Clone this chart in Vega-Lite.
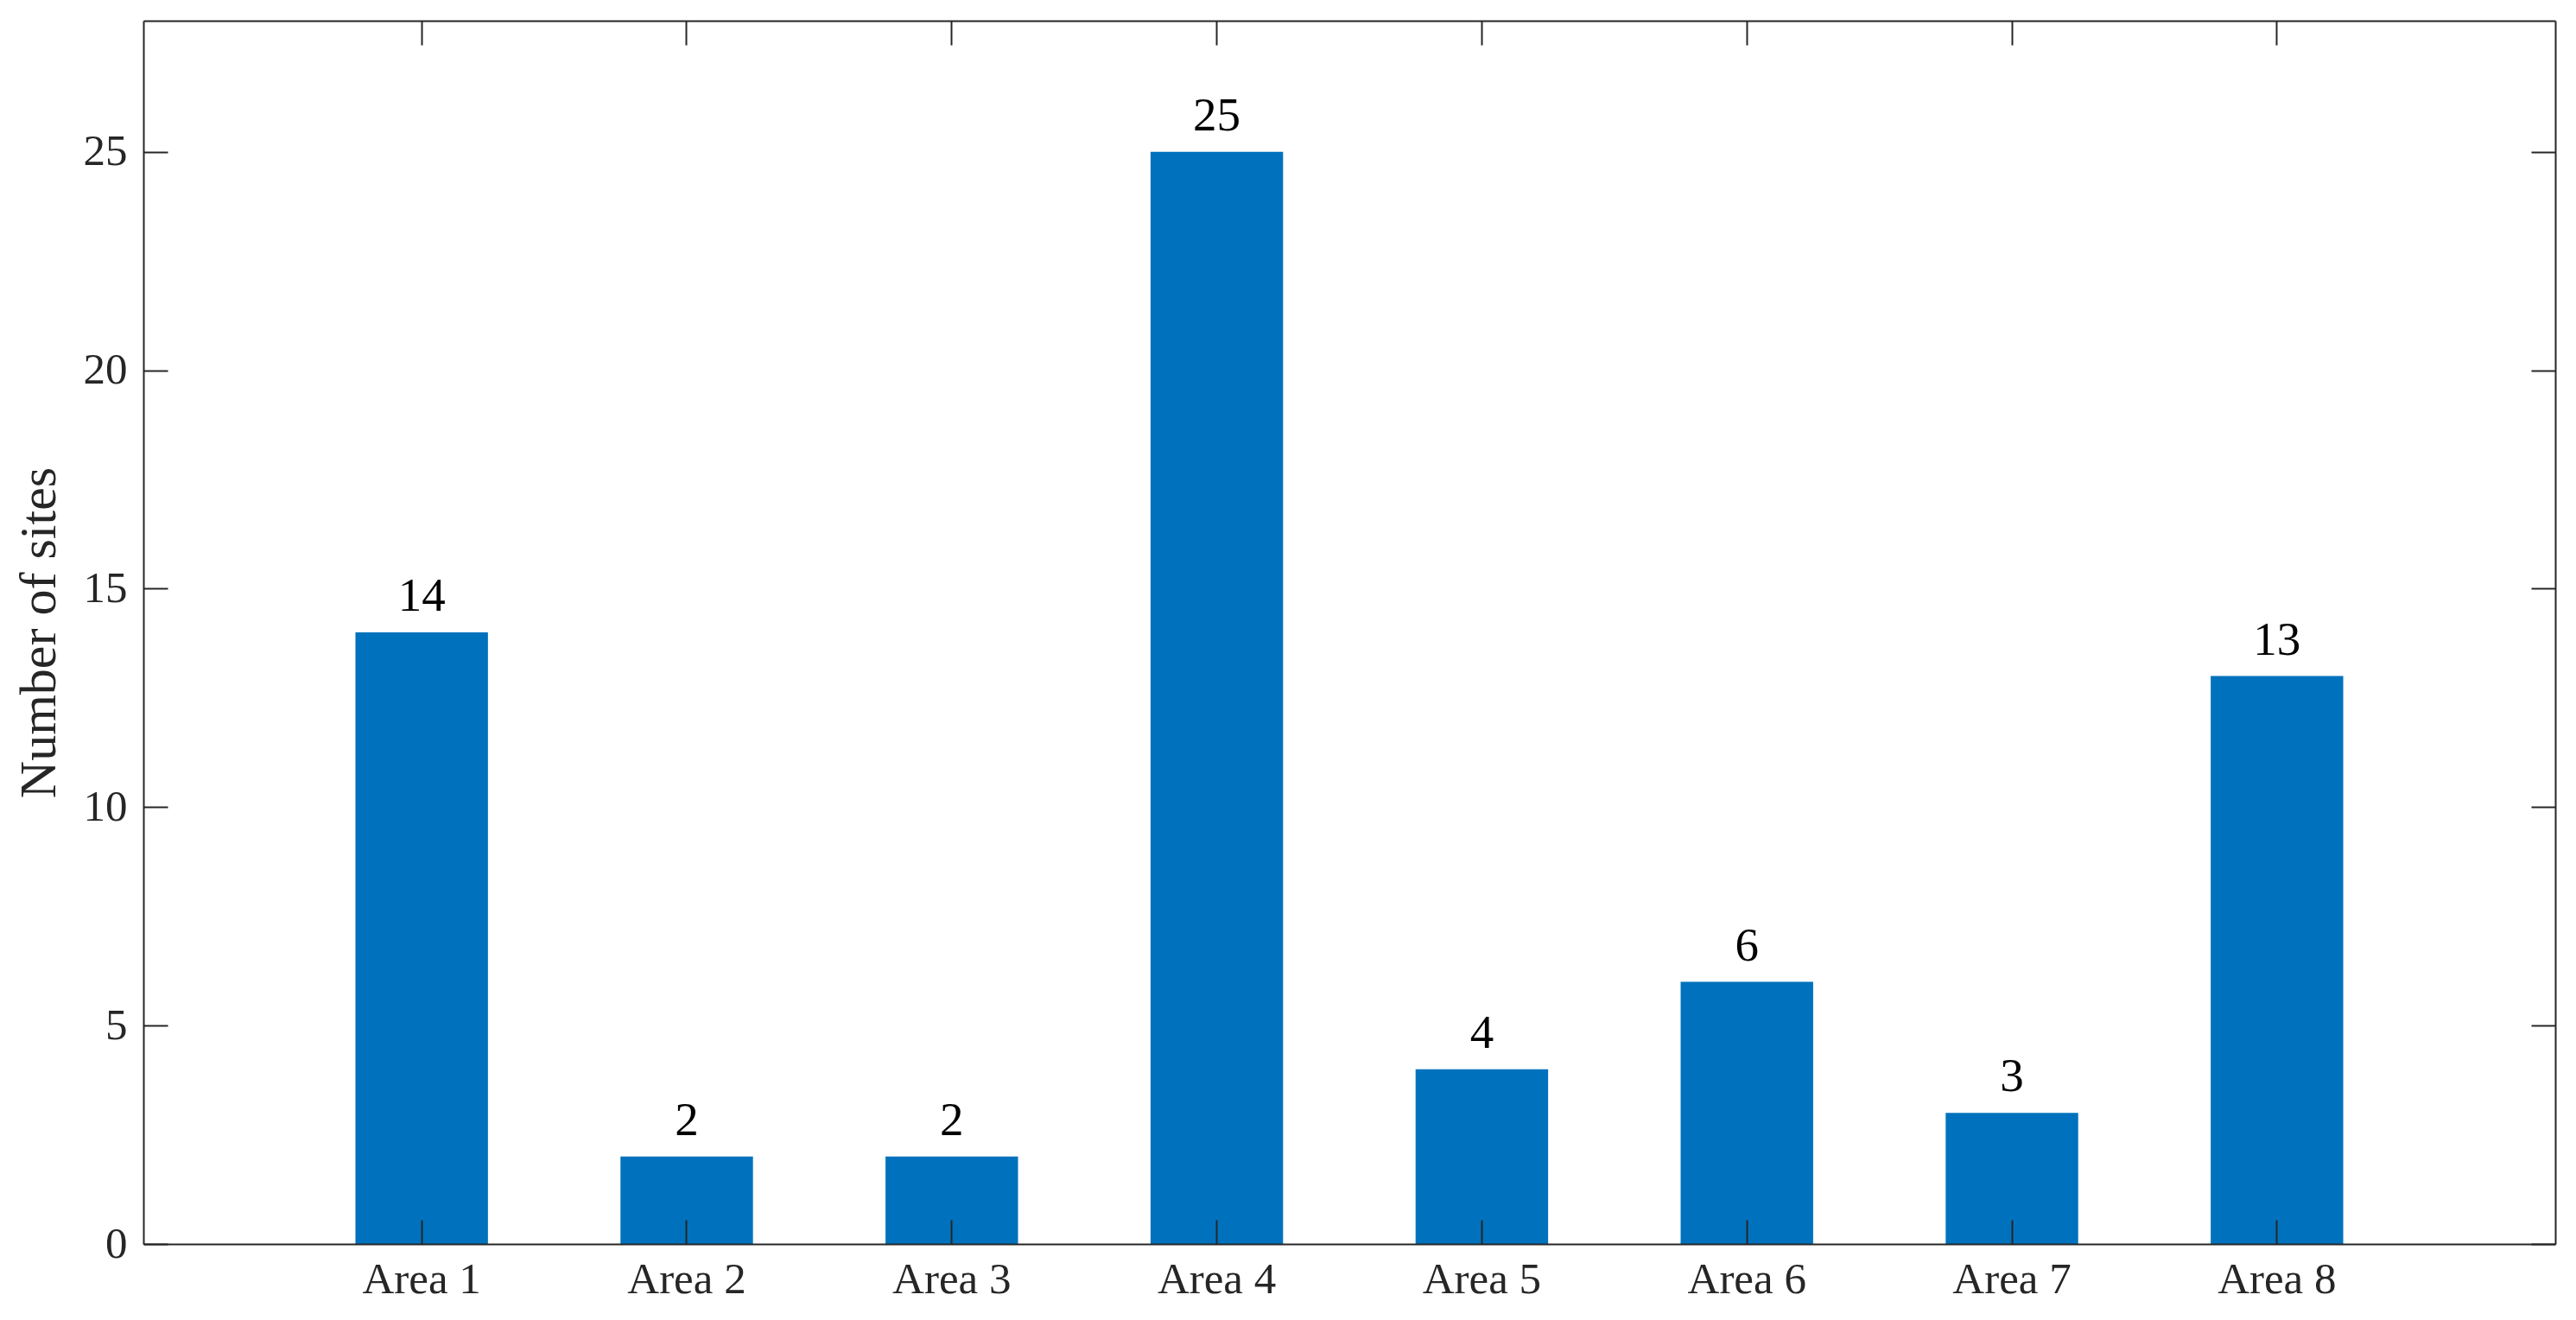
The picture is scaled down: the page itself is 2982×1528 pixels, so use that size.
{
  "$schema": "https://vega.github.io/schema/vega-lite/v6.json",
  "autosize": {"type": "none"},
  "width": 2792,
  "height": 1416,
  "padding": {"left": 166, "top": 24, "right": 24, "bottom": 88},
  "background": "white",
  "config": {
    "view": {"stroke": null},
    "font": "Liberation Serif",
    "axis": {
      "domainColor": "#262626",
      "domainWidth": 2,
      "tickColor": "#262626",
      "tickWidth": 2,
      "tickSize": -28,
      "labelColor": "#262626",
      "titleColor": "#262626",
      "labelFont": "Liberation Serif",
      "titleFont": "Liberation Serif",
      "labelFontSize": 51,
      "titleFontSize": 60,
      "titleFontWeight": "normal",
      "grid": false,
      "zindex": 1
    }
  },
  "data": {
    "values": [
      {"area": "Area 1", "sites": 14},
      {"area": "Area 2", "sites": 2},
      {"area": "Area 3", "sites": 2},
      {"area": "Area 4", "sites": 25},
      {"area": "Area 5", "sites": 4},
      {"area": "Area 6", "sites": 6},
      {"area": "Area 7", "sites": 3},
      {"area": "Area 8", "sites": 13}
    ]
  },
  "layer": [
    {
      "mark": {"type": "bar", "color": "#0072BD"},
      "encoding": {
        "x": {
          "field": "area", "type": "nominal", "sort": null,
          "scale": {"paddingInner": 0.5, "paddingOuter": 0.8},
          "axis": {"orient": "bottom", "title": null, "labelAngle": 0, "labelPadding": 44, "labelBaseline": "top", "zindex": 1}
        },
        "y": {
          "field": "sites", "type": "quantitative",
          "scale": {"domain": [0, 28], "nice": false, "zero": true},
          "axis": {"orient": "left", "title": "Number of sites", "values": [0, 5, 10, 15, 20, 25], "labelPadding": 47, "titleX": -103, "titleY": 708, "titleBaseline": "alphabetic", "titleAngle": -90, "titleAnchor": "middle", "zindex": 1}
        }
      }
    },
    {
      "mark": {"type": "text", "baseline": "alphabetic", "dy": -25, "fontSize": 55, "color": "#000000", "font": "Liberation Serif"},
      "encoding": {
        "x": {
          "field": "area", "type": "nominal", "sort": null,
          "axis": {"orient": "top", "title": null, "labels": false, "zindex": 1}
        },
        "y": {
          "field": "sites", "type": "quantitative",
          "axis": {"orient": "right", "title": null, "labels": false, "values": [0, 5, 10, 15, 20, 25], "zindex": 1}
        },
        "text": {"field": "sites", "type": "quantitative"}
      }
    }
  ],
  "resolve": {"axis": {"x": "independent", "y": "independent"}}
}
